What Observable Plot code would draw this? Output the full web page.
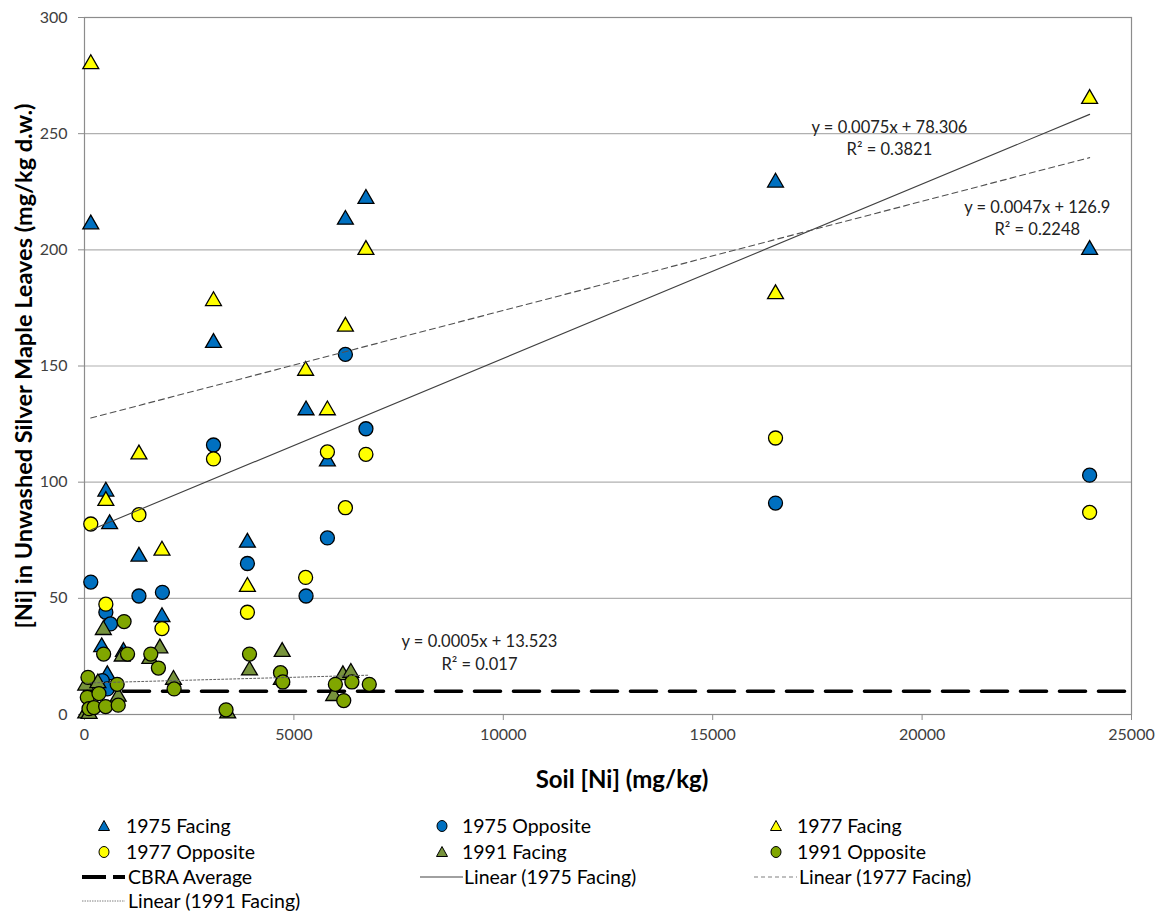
<!DOCTYPE html>
<html><head><meta charset="utf-8">
<script src="https://cdn.jsdelivr.net/npm/d3@7"></script>
<script src="https://cdn.jsdelivr.net/npm/@observablehq/plot@0.6"></script>
<style>
body{margin:0;background:#fff;font-family:Lato,"Open Sans",sans-serif;}
#wrap{position:relative;width:1159px;height:914px;overflow:hidden;}
#chart{position:absolute;left:0;top:0;}
.li{position:absolute;font-size:19.5px;color:#000;white-space:nowrap;line-height:22px;}
.sw{position:absolute;}
</style></head><body><div id="wrap"><div id="chart"></div><div id="legend"></div></div>
<script>
// ---- data ----
const xTicks = [0, 5000, 10000, 15000, 20000, 25000];
const yTicks = [0, 50, 100, 150, 200, 250, 300];
const seriesNames = ["1975 Facing", "1975 Opposite", "1977 Facing", "1977 Opposite", "1991 Facing", "1991 Opposite"];
const f1975 = [[150,211],[410,29],[545,17],[510,96],[600,82],[930,27],[1300,68],[1850,42],[3080,160],[3890,74],[5290,131],[5800,109],[6230,213],[6720,222],[16500,229],[24000,200]];
const o1975 = [[150,57],[425,14.6],[545,11],[510,44],[620,39],[1300,51],[1860,52.6],[3080,116],[3890,65],[5290,51],[5800,76],[6230,155],[6720,123],[16500,91],[24000,103]];
const f1977 = [[150,280],[510,92],[1300,112],[1850,70.6],[3080,178],[3890,55],[5280,148],[5800,131],[6230,167],[6720,200],[16500,181],[24000,265]];
const o1977 = [[150,82],[510,47.5],[1300,86],[1850,37],[3080,110],[3890,44],[5280,59],[5800,113],[6230,89],[6720,112],[16500,119],[24000,87]];
const f1991 = [[30,12.5],[30,0.5],[110,0.3],[320,13.5],[450,36.4],[805,7.7],[900,25],[1560,24],[1800,28.5],[2125,15],[3420,0.5],[3940,19],[4720,27],[4700,15],[5950,8],[6170,17],[6360,18]];
const o1991 = [[83,16],[67,7.4],[107,2.5],[226,3],[345,9],[505,3.4],[457,26],[780,13],[805,4],[945,40],[1028,26],[1583,26],[1765,20],[2140,11],[3380,2],[3940,26],[4680,18],[4735,14],[5990,13],[6190,6],[6385,14],[6800,13]];
const cbraAverage = 10;
const trendNames = ["Linear (1975 Facing)", "Linear (1977 Facing)", "Linear (1991 Facing)"];
const trendSlope = [0.0075, 0.0047, 0.0005];
const trendIntercept = [78.306, 126.9, 13.523];
const trendXmin = [150, 150, 30];
const trendXmax = [24000, 24000, 6800];
const trendR2 = ["0.3821", "0.2248", "0.017"];
const trendEqIntercept = ["78.306", "126.9", "13.523"];

// ---- styles ----
const BLUE = "#0070C0", YELLOW = "#FFFF00", OLIVE = "#77933C", GREEN = "#80A600";
const FONT = "Lato, 'Open Sans', sans-serif";
const toRows = a => a.map(([x, y]) => ({x, y}));
const trendRows = trendSlope.map((m, i) => [
  {x: trendXmin[i], y: m * trendXmin[i] + trendIntercept[i]},
  {x: trendXmax[i], y: m * trendXmax[i] + trendIntercept[i]}
]);
const eqLabels = trendSlope.map((m, i) => `y = ${m}x + ${trendEqIntercept[i]}\nR² = ${trendR2[i]}`);
const eqPos = [{x: 19220, y: 248.6}, {x: 22750, y: 214.3}, {x: 9430, y: 27.2}];
const eqRows = eqLabels.map((t, i) => ({...eqPos[i], t}));

const triR = 5.9, cirR = 7;
const dotOpts = {x: "x", y: "y", stroke: "#000", strokeWidth: 1.3};

const plot = Plot.plot({
  width: 1159, height: 800,
  marginLeft: 84, marginRight: 28, marginTop: 17, marginBottom: 86,
  style: {fontFamily: FONT, fontSize: "16px", color: "#404040", background: "#fff"},
  x: {domain: [0, 25000]},
  y: {domain: [0, 300]},
  marks: [
    Plot.gridY(yTicks.slice(1), {stroke: "#b0b0b0", strokeOpacity: 1, strokeWidth: 1.2}),
    Plot.frame({stroke: "#8c8c8c", strokeWidth: 1.2}),
    Plot.axisX({ticks: xTicks, tickSize: 6, tickPadding: 8, tickFormat: d => String(d), label: null, fontSize: 16, stroke: "#8c8c8c"}),
    Plot.axisY({ticks: yTicks, tickSize: 6, tickPadding: 11, tickFormat: d => String(d), label: null, fontSize: 16, stroke: "#8c8c8c"}),
    Plot.lineY([{x: 0, y: cbraAverage}, {x: 25000, y: cbraAverage}], {x: "x", y: "y", stroke: "#000", strokeWidth: 3.6, strokeDasharray: "26,13"}),
    Plot.dot(toRows(f1975), {...dotOpts, symbol: "triangle", r: triR, fill: BLUE}),
    Plot.dot(toRows(o1975), {...dotOpts, symbol: "circle", r: cirR, fill: BLUE}),
    Plot.dot(toRows(f1977), {...dotOpts, symbol: "triangle", r: triR, fill: YELLOW}),
    Plot.dot(toRows(o1977), {...dotOpts, symbol: "circle", r: cirR, fill: YELLOW}),
    Plot.dot(toRows(f1991), {...dotOpts, symbol: "triangle", r: triR, fill: OLIVE}),
    Plot.dot(toRows(o1991), {...dotOpts, symbol: "circle", r: cirR, fill: GREEN}),
    Plot.line(trendRows[0], {x: "x", y: "y", stroke: "#404040", strokeWidth: 1.1}),
    Plot.line(trendRows[1], {x: "x", y: "y", stroke: "#505050", strokeWidth: 1.1, strokeDasharray: "6,4"}),
    Plot.line(trendRows[2], {x: "x", y: "y", stroke: "#606060", strokeWidth: 1, strokeDasharray: "2,2"}),
    Plot.text(eqRows, {x: "x", y: "y", text: "t", fontSize: 16.5, lineHeight: 1.35, fill: "#222", textAnchor: "middle"})
  ]
});
document.getElementById("chart").appendChild(plot);

// axis titles
const svg = d3.select(plot);
svg.append("text").attr("x", 622).attr("y", 788).attr("text-anchor", "middle")
  .attr("font-family", FONT).attr("font-size", 24).attr("font-weight", "bold").attr("fill", "#000")
  .text("Soil [Ni] (mg/kg)");
svg.append("text").attr("transform", "translate(32,366) rotate(-90)").attr("text-anchor", "middle")
  .attr("font-family", FONT).attr("font-size", 23.5).attr("font-weight", "bold").attr("fill", "#000")
  .text("[Ni] in Unwashed Silver Maple Leaves (mg/kg d.w.)");

// legend
const legendItems = [
  {label: seriesNames[0], kind: "tri", fill: BLUE},
  {label: seriesNames[1], kind: "cir", fill: BLUE},
  {label: seriesNames[2], kind: "tri", fill: YELLOW},
  {label: seriesNames[3], kind: "cir", fill: YELLOW},
  {label: seriesNames[4], kind: "tri", fill: OLIVE},
  {label: seriesNames[5], kind: "cir", fill: GREEN},
  {label: "CBRA Average", kind: "line", stroke: "#000", w: 3.8, dash: "24,7"},
  {label: trendNames[0], kind: "line", stroke: "#808080", w: 1.3, dash: null},
  {label: trendNames[1], kind: "line", stroke: "#808080", w: 1.1, dash: "4,3"},
  {label: trendNames[2], kind: "line", stroke: "#808080", w: 1, dash: "1.5,1"}
];
const colMarker = [104, 442, 776];
const colText = [126, 462, 797];
const rowY = [826, 852, 877, 901];
const leg = document.getElementById("legend");
legendItems.forEach((it, i) => {
  const c = i % 3, r = Math.floor(i / 3);
  const cx = colMarker[c], cy = rowY[r];
  const s = d3.create("svg").attr("class", "sw").attr("width", 50).attr("height", 20)
    .style("left", (cx - 25) + "px").style("top", (cy - 10) + "px");
  if (it.kind === "tri") {
    s.append("path").attr("d", "M25,4.5 L30.5,14.5 L19.5,14.5 Z").attr("fill", it.fill).attr("stroke", "#000").attr("stroke-width", 1);
  } else if (it.kind === "cir") {
    s.append("ellipse").attr("cx", 25).attr("cy", 10).attr("rx", 5).attr("ry", 5.5).attr("fill", it.fill).attr("stroke", "#000").attr("stroke-width", 1);
  } else {
    const l = s.append("line").attr("x1", 3).attr("x2", 46).attr("y1", 10).attr("y2", 10)
      .attr("stroke", it.stroke).attr("stroke-width", it.w);
    if (it.dash) l.attr("stroke-dasharray", it.dash);
  }
  leg.appendChild(s.node());
  const t = document.createElement("div");
  t.className = "li"; t.textContent = it.label;
  t.style.left = (it.kind === "line" ? colText[c] + 2 : colText[c]) + "px"; t.style.top = (cy - 11) + "px";
  leg.appendChild(t);
});
</script></body></html>
